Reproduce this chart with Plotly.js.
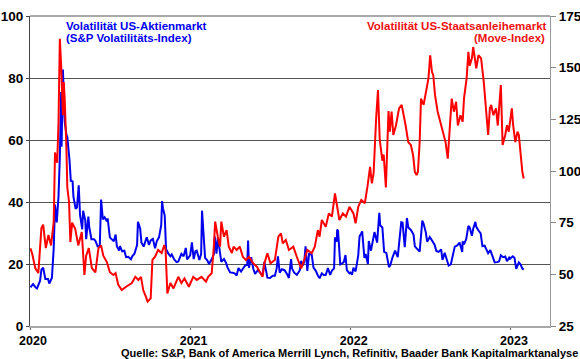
<!DOCTYPE html>
<html><head><meta charset="utf-8">
<script src="https://cdn.plot.ly/plotly-3.0.1.min.js"></script>
<style>html,body{margin:0;padding:0;background:#fff}#chart{width:580px;height:359px}</style>
</head><body><div id="chart"></div>
<script>
// VIX (left axis)
const vixDates = [
'2020-01-02','2020-01-08','2020-01-14','2020-01-17','2020-01-24','2020-01-27','2020-01-31','2020-02-05','2020-02-11','2020-02-14','2020-02-20','2020-02-24','2020-02-27','2020-03-02','2020-03-06','2020-03-09','2020-03-12','2020-03-13','2020-03-16','2020-03-18','2020-03-20','2020-03-24','2020-03-26','2020-03-31','2020-04-03','2020-04-07','2020-04-09','2020-04-14','2020-04-17','2020-04-21','2020-04-24','2020-04-29','2020-05-01','2020-05-06','2020-05-08','2020-05-13','2020-05-15','2020-05-20','2020-05-26','2020-05-29','2020-06-03','2020-06-08','2020-06-11','2020-06-15','2020-06-19','2020-06-24','2020-06-26','2020-07-01','2020-07-06','2020-07-10','2020-07-14','2020-07-17','2020-07-22','2020-07-24','2020-07-29','2020-08-03','2020-08-07','2020-08-12','2020-08-18','2020-08-21','2020-08-26','2020-09-01','2020-09-03','2020-09-08','2020-09-11','2020-09-16','2020-09-21','2020-09-23','2020-09-28','2020-10-02','2020-10-07','2020-10-12','2020-10-16','2020-10-21','2020-10-26','2020-10-28','2020-10-30','2020-11-03','2020-11-06','2020-11-11','2020-11-16','2020-11-19','2020-11-24','2020-11-30','2020-12-04','2020-12-09','2020-12-11','2020-12-16','2020-12-21','2020-12-24','2020-12-31',
'2021-01-04','2021-01-08','2021-01-12','2021-01-15','2021-01-21','2021-01-25','2021-01-27','2021-01-29','2021-02-03','2021-02-08','2021-02-12','2021-02-18','2021-02-23','2021-02-25','2021-03-01','2021-03-04','2021-03-09','2021-03-12','2021-03-18','2021-03-23','2021-03-26','2021-04-01','2021-04-07','2021-04-12','2021-04-16','2021-04-20','2021-04-26','2021-04-30','2021-05-05','2021-05-10','2021-05-12','2021-05-14','2021-05-19','2021-05-24','2021-05-28','2021-06-03','2021-06-08','2021-06-14','2021-06-18','2021-06-21','2021-06-25','2021-07-01','2021-07-07','2021-07-12','2021-07-16','2021-07-19','2021-07-23','2021-07-28','2021-08-03','2021-08-09','2021-08-13','2021-08-18','2021-08-20','2021-08-25','2021-08-31','2021-09-07','2021-09-10','2021-09-14','2021-09-17','2021-09-20','2021-09-24','2021-09-28','2021-10-04','2021-10-08','2021-10-13','2021-10-18','2021-10-22','2021-10-27','2021-11-01','2021-11-05','2021-11-10','2021-11-15','2021-11-19','2021-11-24','2021-11-26','2021-11-30','2021-12-01','2021-12-03','2021-12-08','2021-12-13','2021-12-16','2021-12-20','2021-12-23','2021-12-29','2021-12-31',
'2022-01-04','2022-01-07','2022-01-12','2022-01-18','2022-01-21','2022-01-24','2022-01-27','2022-02-01','2022-02-04','2022-02-09','2022-02-11','2022-02-16','2022-02-22','2022-02-24','2022-03-02','2022-03-07','2022-03-09','2022-03-14','2022-03-18','2022-03-23','2022-03-29','2022-04-01','2022-04-06','2022-04-12','2022-04-18','2022-04-22','2022-04-26','2022-04-29','2022-05-04','2022-05-09','2022-05-12','2022-05-18','2022-05-24','2022-05-27','2022-06-02','2022-06-07','2022-06-13','2022-06-16','2022-06-21','2022-06-24','2022-06-30','2022-07-06','2022-07-11','2022-07-15','2022-07-20','2022-07-26','2022-07-29','2022-08-03','2022-08-08','2022-08-12','2022-08-17','2022-08-22','2022-08-26','2022-08-31','2022-09-06','2022-09-12','2022-09-13','2022-09-16','2022-09-21','2022-09-26','2022-09-29','2022-10-04','2022-10-07','2022-10-12','2022-10-14','2022-10-19','2022-10-24','2022-10-28','2022-11-02','2022-11-07','2022-11-10','2022-11-15','2022-11-21','2022-11-25','2022-11-30','2022-12-05','2022-12-09','2022-12-14','2022-12-19','2022-12-23','2022-12-28','2022-12-30',
'2023-01-05','2023-01-09','2023-01-13','2023-01-19','2023-01-23','2023-01-27','2023-01-30'];
const vixValues = [
12.5,13.5,12.4,12.1,14.6,18.2,18.8,15.2,15.2,13.7,15.6,25.0,39.2,33.4,41.9,54.5,75.5,57.8,82.7,76.5,66.0,61.7,61.0,53.5,46.8,46.7,41.7,37.8,38.2,45.4,35.9,31.2,37.2,34.1,28.0,35.3,31.9,28.0,28.0,27.5,25.7,25.8,40.8,34.4,35.1,33.8,34.7,28.6,27.9,27.3,29.5,25.7,24.3,25.8,24.1,24.3,22.2,22.3,21.5,22.5,23.3,26.1,33.6,31.5,26.9,25.6,27.8,28.6,26.2,27.6,28.1,25.1,27.4,28.6,32.5,40.3,38.0,35.6,24.9,23.4,22.5,23.1,21.6,20.6,20.8,22.3,23.3,22.5,25.2,21.5,22.8,
27.0,21.6,24.1,24.3,21.3,23.2,37.2,33.1,22.0,21.2,20.0,21.5,23.1,28.9,23.3,28.6,24.0,20.7,21.6,20.3,18.9,17.3,17.2,16.9,16.3,18.7,17.6,18.6,19.5,19.7,27.6,18.8,22.2,18.4,16.8,18.0,17.1,16.4,20.7,17.9,15.6,15.5,16.2,16.2,18.5,22.5,17.2,18.3,18.0,16.7,15.5,21.6,18.6,17.2,16.5,18.0,21.0,19.5,20.8,25.7,17.8,23.3,23.0,18.8,17.9,16.3,15.4,17.0,16.4,16.5,18.7,16.5,17.9,18.6,28.6,27.2,31.1,30.7,19.9,20.3,20.6,22.9,18.0,17.0,17.2,
16.6,18.8,17.6,22.8,28.9,29.9,30.5,22.0,23.2,20.0,27.4,24.3,28.8,30.3,26.9,36.5,32.5,31.8,23.9,23.6,19.0,19.6,22.1,24.3,22.2,28.2,33.5,33.4,25.4,34.8,31.8,31.0,29.5,25.7,24.7,24.0,34.0,33.0,30.2,27.2,28.7,27.5,26.2,24.2,23.9,24.7,21.3,23.6,21.3,19.5,19.9,23.8,25.6,25.9,26.9,23.9,27.3,26.3,28.0,32.3,31.8,29.1,31.4,33.6,32.0,30.8,29.9,25.8,25.9,24.4,23.5,24.5,22.4,20.5,20.6,20.8,22.8,22.2,22.4,20.9,22.1,21.7,
22.5,22.0,18.4,20.5,19.8,18.5,18.2];

// MOVE index (right axis)
const moveDates = [
'2020-01-02','2020-01-06','2020-01-13','2020-01-20','2020-01-27','2020-01-31','2020-02-06','2020-02-12','2020-02-18','2020-02-24','2020-02-27','2020-03-03','2020-03-06','2020-03-09','2020-03-12','2020-03-16','2020-03-18','2020-03-20','2020-03-24','2020-03-26','2020-03-30','2020-04-02','2020-04-06','2020-04-13','2020-04-20','2020-04-28','2020-05-04','2020-05-08','2020-05-14','2020-05-21','2020-05-29','2020-06-05','2020-06-11','2020-06-16','2020-06-24','2020-07-01','2020-07-09','2020-07-14','2020-07-20','2020-07-28','2020-08-07','2020-08-20','2020-08-28','2020-09-04','2020-09-10','2020-09-15','2020-09-21','2020-09-25','2020-10-02','2020-10-06','2020-10-12','2020-10-19','2020-10-27','2020-11-02','2020-11-05','2020-11-09','2020-11-16','2020-11-23','2020-12-04','2020-12-11','2020-12-18','2020-12-28',
'2021-01-07','2021-01-15','2021-01-26','2021-02-05','2021-02-10','2021-02-18','2021-02-23','2021-02-26','2021-03-04','2021-03-09','2021-03-12','2021-03-18','2021-03-24','2021-03-29','2021-04-05','2021-04-09','2021-04-16','2021-04-23','2021-04-30','2021-05-07','2021-05-14','2021-05-24','2021-06-01','2021-06-08','2021-06-14','2021-06-18','2021-06-25','2021-07-02','2021-07-12','2021-07-20','2021-07-26','2021-07-30','2021-08-06','2021-08-13','2021-08-23','2021-08-31','2021-09-07','2021-09-10','2021-09-17','2021-09-24','2021-10-04','2021-10-11','2021-10-18','2021-10-22','2021-10-27','2021-11-05','2021-11-12','2021-11-19','2021-11-26','2021-12-01','2021-12-06','2021-12-14','2021-12-21','2021-12-29',
'2022-01-07','2022-01-12','2022-01-18','2022-01-25','2022-02-02','2022-02-08','2022-02-14','2022-02-18','2022-02-22','2022-02-28','2022-03-04','2022-03-08','2022-03-14','2022-03-17','2022-03-22','2022-03-28','2022-03-31','2022-04-04','2022-04-08','2022-04-14','2022-04-21','2022-04-27','2022-05-02','2022-05-06','2022-05-12','2022-05-18','2022-05-23','2022-05-27','2022-05-31','2022-06-03','2022-06-07','2022-06-10','2022-06-16','2022-06-22','2022-06-27','2022-07-01','2022-07-05','2022-07-08','2022-07-12','2022-07-18','2022-07-22','2022-07-27','2022-08-01','2022-08-05','2022-08-10','2022-08-15','2022-08-19','2022-08-24','2022-08-29','2022-09-02','2022-09-08','2022-09-13','2022-09-16','2022-09-22','2022-09-26','2022-09-29','2022-10-04','2022-10-07','2022-10-14','2022-10-19','2022-10-25','2022-10-31','2022-11-04','2022-11-10','2022-11-14','2022-11-17','2022-11-22','2022-11-28','2022-12-02','2022-12-07','2022-12-09','2022-12-13','2022-12-19','2022-12-23','2022-12-27',
'2023-01-03','2023-01-06','2023-01-11','2023-01-16','2023-01-19','2023-01-23','2023-01-25','2023-01-27','2023-01-30'];
const moveValues = [
62.6,60,53,50.6,72.4,74,62.7,69,64,75.3,109,104,123.7,164,151,127,143,135,111,92,85,65.6,75,72,64,70.5,49.7,59,62.7,53,51,62.7,64,59,56,51,49.7,50.6,45,42.4,44,45.8,48.8,47.3,48.8,42.4,39.2,36.8,38.4,57,58.5,61.8,60.3,64.2,61.8,40.8,45.8,43.2,48.8,45.8,48,44,
48.8,47.3,48.8,46.4,48.8,50.5,63.4,75.5,68.2,63.4,75.5,68.2,71.4,63.4,60.3,63.4,61.8,63.4,58.5,56.9,58.5,55.3,53.7,51.3,48.8,55.3,60.2,55.3,56.9,68.2,69.8,65,66.6,61.8,63.4,58.5,54.5,52.9,57,61.8,60.2,63.4,71.4,68.2,76.3,73,79.5,77.9,89.2,82.7,76.3,79.5,77.9,82.7,
79.5,74.7,82.7,86,84.4,92.4,102,94,98.9,126.3,139.2,115,105,108,92,129,119,128.7,117.4,122,130.3,132,127,122,114,112.6,107.7,99.6,98,99.6,114,135,132,138.4,144.8,156,148,146.4,136.7,128.7,125.5,120.6,117.4,114,106,122,135,128.7,133.5,122,127,123.8,135,144.8,157.7,151,154.5,160,149.7,156,154.5,143.2,133.5,117.4,130.3,132,127,130.3,122,135,141.6,112.6,117.4,122.2,119,
130.3,122.2,114,119,117.4,107.7,104.5,99.6,96.4];

const leftTicks = [0,20,40,60,80,100];
const rightTicks = [25,50,75,100,125,150,175];
const yearTicks = ['2020-01-01','2021-01-01','2022-01-01','2023-01-01'];
const yearLabels = ['2020','2021','2022','2023'];
const xRange = ['2020-01-01','2023-03-31'];

const blue = '#0000ee', red = '#ff0000';
const fam = 'Liberation Sans, Arial, sans-serif';
const tickFont = {family: fam, size: 13.5, color: '#000', weight: 'bold'};
const xTickFont = {family: fam, size: 12.5, color: '#000', weight: 'bold'};

const traces = [
  {x: vixDates, y: vixValues, type: 'scatter', mode: 'lines', yaxis: 'y',
   line: {color: blue, width: 2}, hoverinfo: 'skip'},
  {x: moveDates, y: moveValues, type: 'scatter', mode: 'lines', yaxis: 'y2',
   line: {color: red, width: 2}, hoverinfo: 'skip'}
];

const layout = {
  width: 580, height: 359,
  margin: {l: 30, r: 30, t: 16, b: 33, pad: 0},
  paper_bgcolor: '#fff', plot_bgcolor: '#fff',
  showlegend: false,
  font: {family: fam},
  xaxis: {type: 'date', range: xRange, tickvals: yearTicks, ticktext: yearLabels,
    ticks: 'outside', ticklen: 2, tickcolor: '#666', showline: true, linecolor: '#a8a8a8', linewidth: 2,
    ticklabelshift: 3,
    showgrid: false, zeroline: false, tickfont: xTickFont, fixedrange: true},
  yaxis: {range: [0, 100], tickvals: leftTicks, ticks: 'outside', ticklen: 3, tickcolor: '#444',
    showline: true, linecolor: '#444', linewidth: 1, showgrid: true, gridcolor: '#555', gridwidth: 1,
    zeroline: false, tickfont: tickFont, fixedrange: true},
  yaxis2: {range: [25, 175], tickvals: rightTicks, overlaying: 'y', side: 'right', ticks: 'outside',
    ticklen: 5, tickcolor: '#888', showline: true, linecolor: '#999', linewidth: 1, showgrid: false,
    zeroline: false, tickfont: tickFont, fixedrange: true},
  shapes: [{type: 'line', xref: 'paper', yref: 'paper', x0: 0, x1: 1, y0: 1, y1: 1,
    line: {color: '#555', width: 1}}],
  annotations: [
    {text: 'Volatilität US-Aktienmarkt', xref: 'paper', yref: 'paper', x: 0.065, y: 0.969,
     xanchor: 'left', yanchor: 'middle', showarrow: false, font: {family: fam, size: 11.5, color: blue, weight: 'bold'}},
    {text: '(S&amp;P Volatilitäts-Index)', xref: 'paper', yref: 'paper', x: 0.065, y: 0.929,
     xanchor: 'left', yanchor: 'middle', showarrow: false, font: {family: fam, size: 11.5, color: blue, weight: 'bold'}},
    {text: 'Volatilität US-Staatsanleihemarkt', xref: 'paper', yref: 'paper', x: 0.999, y: 0.969,
     xanchor: 'right', yanchor: 'middle', showarrow: false, font: {family: fam, size: 11.5, color: '#ee1111', weight: 'bold'}},
    {text: '(Move-Index)', xref: 'paper', yref: 'paper', x: 0.995, y: 0.929,
     xanchor: 'right', yanchor: 'middle', showarrow: false, font: {family: fam, size: 11.5, color: '#ee1111', weight: 'bold'}},
    {text: 'Quelle: S&amp;P, Bank of America Merrill Lynch, Refinitiv, Baader Bank Kapitalmarktanalyse',
     xref: 'paper', yref: 'paper', x: 1.055, y: -0.0887, xanchor: 'right', yanchor: 'middle', showarrow: false,
     borderpad: 0, font: {family: fam, size: 11, color: '#000', weight: 'bold'}}
  ]
};

Plotly.newPlot('chart', traces, layout, {staticPlot: true, displayModeBar: false});
</script>
</body></html>
